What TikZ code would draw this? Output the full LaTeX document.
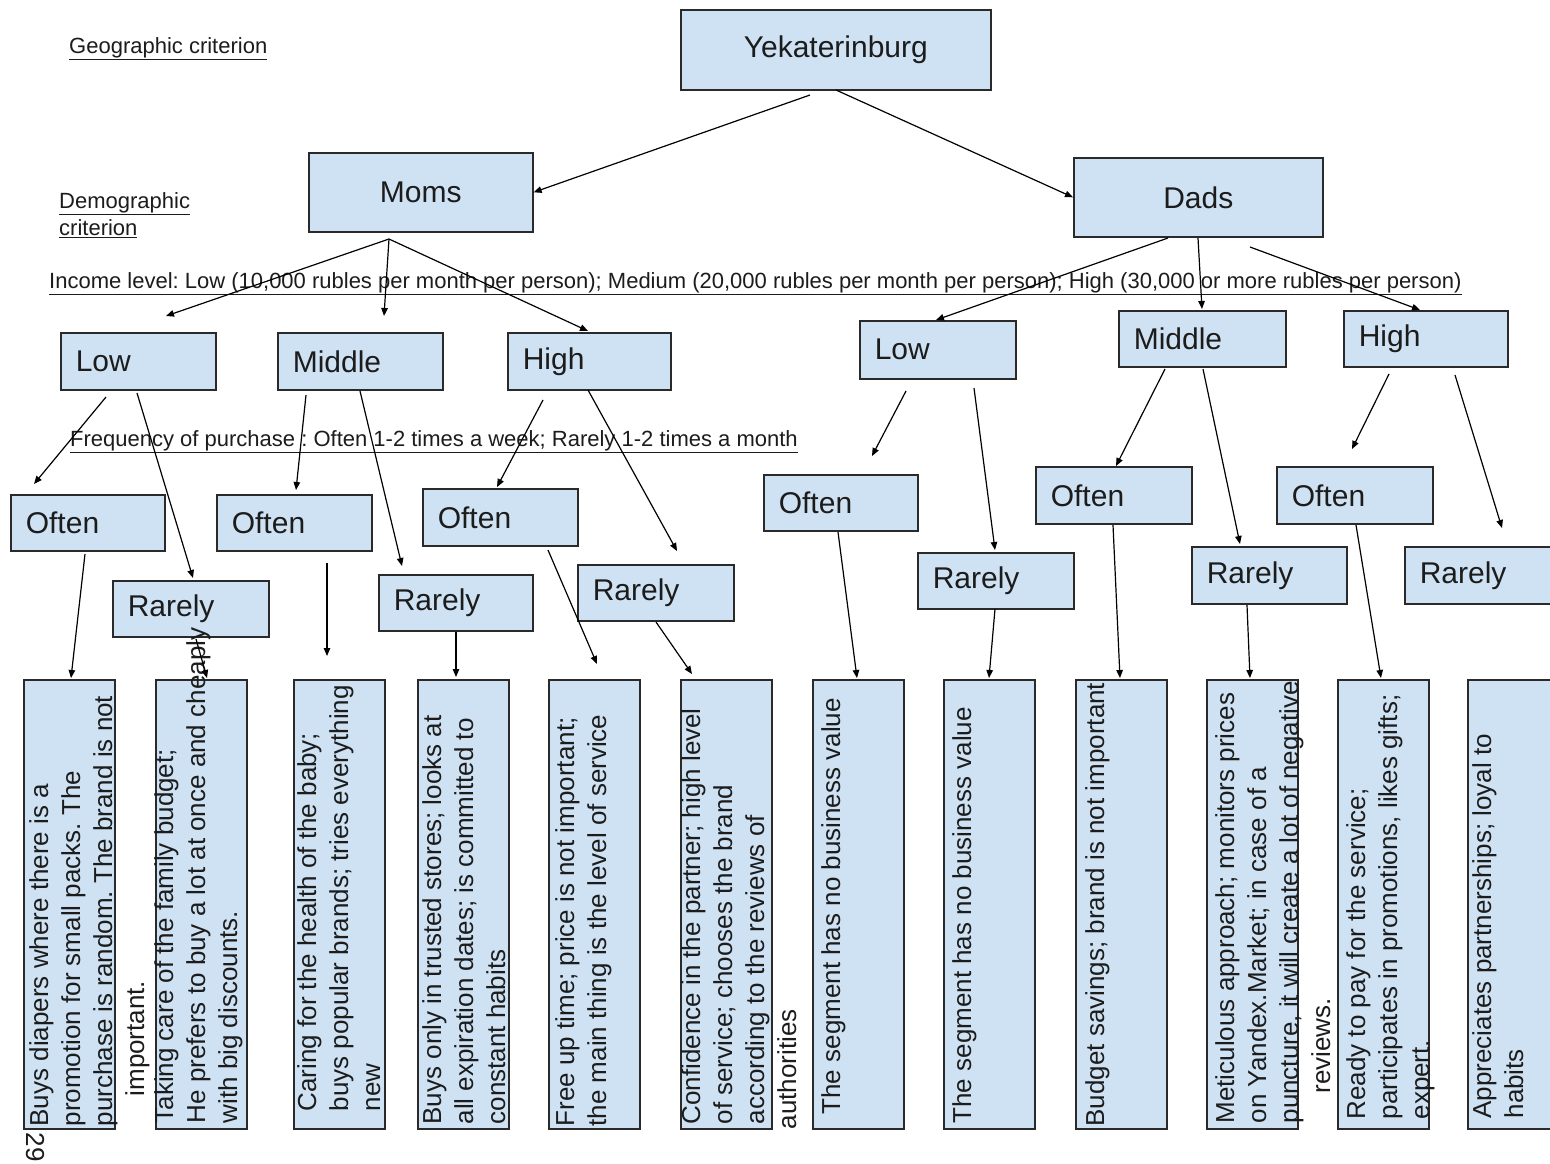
\documentclass[tikz,border=0pt]{standalone}
\usepackage{fontspec}
\setmainfont{Liberation Sans}
\usetikzlibrary{arrows.meta,calc}

\definecolor{boxfill}{HTML}{CFE2F3}
\definecolor{bordc}{HTML}{2A2A2A}
\definecolor{inkc}{HTML}{1C1C1C}

\newcommand\titlefont{\fontsize{30}{36}\selectfont}
\newcommand\notefont{\fontsize{26}{32}\selectfont}
\newcommand\labelfont{\fontsize{22}{27}\selectfont}
\frenchspacing

\begin{document}
\begin{tikzpicture}[x=1pt,y=-1pt,
  box/.style={draw=bordc, line width=1.6pt, fill=boxfill, text=inkc},
  big/.style={box, anchor=north west, font=\titlefont, inner sep=0pt},
  lvl/.style 2 args={box, anchor=north west, font=\titlefont, inner sep=0pt,
    align=left, text width=#1pt, minimum height=#2pt,
    execute at begin node=\hspace*{15pt}},
  tall/.style={box, anchor=north west, inner sep=0pt,
    minimum width=91pt, minimum height=449pt},
  rtext/.style={rotate=90, anchor=north west, inner sep=0pt, align=left,
    font=\notefont, text=inkc},
  lab/.style={font=\labelfont, text=inkc, inner sep=0pt},
  arr/.style={draw=black, line width=1.2pt, -{Triangle[length=8pt,width=6.5pt]}},
]
\useasboundingbox (0,0) rectangle (1550,1163);
\fill[white] (0,0) rectangle (1550,1163);

% criteria labels
\node[lab, anchor=west] (geo) at (69,49) {\underline{Geographic criterion}};
\node[lab, anchor=north west, align=left] (demo) at (59,192)
  {\underline{Demographic}\\\underline{criterion}};
\node[lab, anchor=west] (inc) at (49,284)
  {\underline{Income level: Low (10,000 rubles per month per person); Medium (20,000 rubles per month per person); High (30,000 or more rubles per person)}};
\node[lab, anchor=west] (freq) at (70,442)
  {\underline{Frequency of purchase : Often 1-2 times a week; Rarely 1-2 times a month}};

% city and parents
\node[big, minimum width=310pt, minimum height=80pt] (yek) at (680,9) {Yekaterinburg};
\node[big, minimum width=224pt, minimum height=79pt] (moms) at (308,152) {Moms};
\node[big, minimum width=249pt, minimum height=79pt] (dads) at (1073,157) {Dads};

% income levels
\node[lvl={155}{57}] (mlow)  at (60,332)   {Low};
\node[lvl={165}{57}] (mmid)  at (277,332)  {Middle};
\node[lvl={163}{57}] (mhigh) at (507,332)  {High};
\node[lvl={156}{58}] (dlow)  at (859,320)  {Low};
\node[lvl={167}{56}] (dmid)  at (1118,310) {Middle};
\node[lvl={164}{56}] (dhigh) at (1343,310) {High};

% purchase frequency
\node[lvl={154}{56}] (mlo) at (10,494)   {Often};
\node[lvl={156}{56}] (mlr) at (112,580)  {Rarely};
\node[lvl={155}{56}] (mmo) at (216,494)  {Often};
\node[lvl={154}{56}] (mmr) at (378,574)  {Rarely};
\node[lvl={155}{57}] (mho) at (422,488)  {Often};
\node[lvl={156}{56}] (mhr) at (577,564)  {Rarely};
\node[lvl={154}{56}] (dlo) at (763,474)  {Often};
\node[lvl={156}{56}] (dlr) at (917,552)  {Rarely};
\node[lvl={156}{57}] (dmo) at (1035,466) {Often};
\node[lvl={155}{57}] (dmr) at (1191,546) {Rarely};
\node[lvl={156}{57}] (dho) at (1276,466) {Often};
\node[lvl={156}{57}] (dhr) at (1404,546) {Rarely};

% segment descriptions
\node[tall] (t1)  at (23,679)   {};
\node[tall] (t2)  at (155,679)  {};
\node[tall] (t3)  at (293,679)  {};
\node[tall] (t4)  at (417,679)  {};
\node[tall] (t5)  at (548,679)  {};
\node[tall] (t6)  at (680,679)  {};
\node[tall] (t7)  at (812,679)  {};
\node[tall] (t8)  at (943,679)  {};
\node[tall] (t9)  at (1075,679) {};
\node[tall] (t10) at (1206,679) {};
\node[tall] (t11) at (1337,679) {};
\node[tall] (t12) at (1467,679) {};

\node[rtext] (n1) at ($(t1.south west)+(6,-3)$)
  {Buys diapers where there is a\\promotion for small packs. The\\purchase is random. The brand is not\\\hspace*{30pt}important.};
\node[rtext] (n2) at ($(t2.south west)+(-1,-6)$)
  {Taking care of the family budget;\\He prefers to buy a lot at once and cheaply\\with big discounts.};
\node[rtext] (n3) at ($(t3.south west)+(4,-18)$)
  {Caring for the health of the baby;\\buys popular brands; tries everything\\new};
\node[rtext] (n4) at ($(t4.south west)+(5,-5)$)
  {Buys only in trusted stores; looks at\\all expiration dates; is committed to\\constant habits};
\node[rtext] (n5) at ($(t5.south west)+(7,-3)$)
  {Free up time; price is not important;\\the main thing is the level of service};
\node[rtext] (n6) at ($(t6.south west)+(1,-5)$)
  {Confidence in the partner; high level\\of service; chooses the brand\\according to the reviews of\\\hspace*{-5pt}authorities};
\node[rtext] (n7) at ($(t7.south west)+(9,-15)$)
  {The segment has no business value};
\node[rtext] (n8) at ($(t8.south west)+(9,-6)$)
  {The segment has no business value};
\node[rtext] (n9) at ($(t9.south west)+(10,-3)$)
  {Budget savings; brand is not important};
\node[rtext] (n10) at ($(t10.south west)+(9,-6)$)
  {Meticulous approach; monitors prices\\on Yandex.Market; in case of a\\puncture, it will create a lot of negative\\\hspace*{30pt}reviews.};
\node[rtext] (n11) at ($(t11.south west)+(9,-10)$)
  {Ready to pay for the service;\\participates in promotions, likes gifts;\\expert.};
\node[rtext] (n12) at ($(t12.south west)+(5,-11)$)
  {Appreciates partnerships; loyal to\\habits};

% page number
\node[lab, font=\fontsize{26}{30}\selectfont, rotate=-90] (pg) at (35,1147) {29};

% connector start points
\coordinate (yA) at (810,95);
\coordinate (yB) at (836,90);
\coordinate (mS) at (389,239);
\coordinate (dS1) at (1168,238);
\coordinate (dS2) at (1198,238);
\coordinate (dS3) at (1250,247);
\coordinate (mlS1) at (106,397);  \coordinate (mlS2) at (137,393);
\coordinate (mmS1) at (306,395);  \coordinate (mmS2) at (360,391);
\coordinate (mhS1) at (543,400);  \coordinate (mhS2) at (588,390);
\coordinate (dlS1) at (906,391);  \coordinate (dlS2) at (974,388);
\coordinate (dmS1) at (1165,369); \coordinate (dmS2) at (1203,369);
\coordinate (dhS1) at (1389,374); \coordinate (dhS2) at (1455,375);
\coordinate (mloS) at (85,554);
\coordinate (mlrS) at (196,639);
\coordinate (mmoS) at (327,563);
\coordinate (mmrS) at (456,632);
\coordinate (mhoS) at (548,550);
\coordinate (mhrS) at (656,622);
\coordinate (dloS) at (838,532);
\coordinate (dlrS) at (995,609);
\coordinate (dmoS) at (1113,525);
\coordinate (dmrS) at (1247,605);
\coordinate (dhoS) at (1356,525);

% connector end points
\coordinate (mlT) at (166,316);
\coordinate (mmT) at (384,316);
\coordinate (mhT) at (588,331);
\coordinate (dlT) at (936,320);
\coordinate (dmT) at (1202,309);
\coordinate (dhT) at (1420,310);
\coordinate (mloT) at (34,484);   \coordinate (mlrT) at (193,578);
\coordinate (mmoT) at (296,490);  \coordinate (mmrT) at (402,566);
\coordinate (mhoT) at (497,487);  \coordinate (mhrT) at (677,551);
\coordinate (dloT) at (872,456);  \coordinate (dlrT) at (995,550);
\coordinate (dmoT) at (1116,466); \coordinate (dmrT) at (1240,544);
\coordinate (dhoT) at (1352,449); \coordinate (dhrT) at (1502,528);
\coordinate (t1T) at (71,678);
\coordinate (t2T) at (207,678);
\coordinate (t3T) at (327,656);
\coordinate (t4T) at (456,677);
\coordinate (t5T) at (597,664);
\coordinate (t6T) at (692,674);
\coordinate (t7T) at (857,678);
\coordinate (t8T) at (989,678);
\coordinate (t9T) at (1120,678);
\coordinate (t10T) at (1250,678);
\coordinate (t11T) at (1381,678);

% connectors
\draw[arr] (yA) -- (moms.east);
\draw[arr] (yB) -- (dads.west);
\draw[arr] (mS) -- (mlT);
\draw[arr] (mS) -- (mmT);
\draw[arr] (mS) -- (mhT);
\draw[arr] (dS1) -- (dlT);
\draw[arr] (dS2) -- (dmT);
\draw[arr] (dS3) -- (dhT);
\draw[arr] (mlS1) -- (mloT);
\draw[arr] (mlS2) -- (mlrT);
\draw[arr] (mmS1) -- (mmoT);
\draw[arr] (mmS2) -- (mmrT);
\draw[arr] (mhS1) -- (mhoT);
\draw[arr] (mhS2) -- (mhrT);
\draw[arr] (dlS1) -- (dloT);
\draw[arr] (dlS2) -- (dlrT);
\draw[arr] (dmS1) -- (dmoT);
\draw[arr] (dmS2) -- (dmrT);
\draw[arr] (dhS1) -- (dhoT);
\draw[arr] (dhS2) -- (dhrT);
\draw[arr] (mloS) -- (t1T);
\draw[arr] (mlrS) -- (t2T);
\draw[arr] (mmoS) -- (t3T);
\draw[arr] (mmrS) -- (t4T);
\draw[arr] (mhoS) -- (t5T);
\draw[arr] (mhrS) -- (t6T);
\draw[arr] (dloS) -- (t7T);
\draw[arr] (dlrS) -- (t8T);
\draw[arr] (dmoS) -- (t9T);
\draw[arr] (dmrS) -- (t10T);
\draw[arr] (dhoS) -- (t11T);
\end{tikzpicture}
\end{document}
